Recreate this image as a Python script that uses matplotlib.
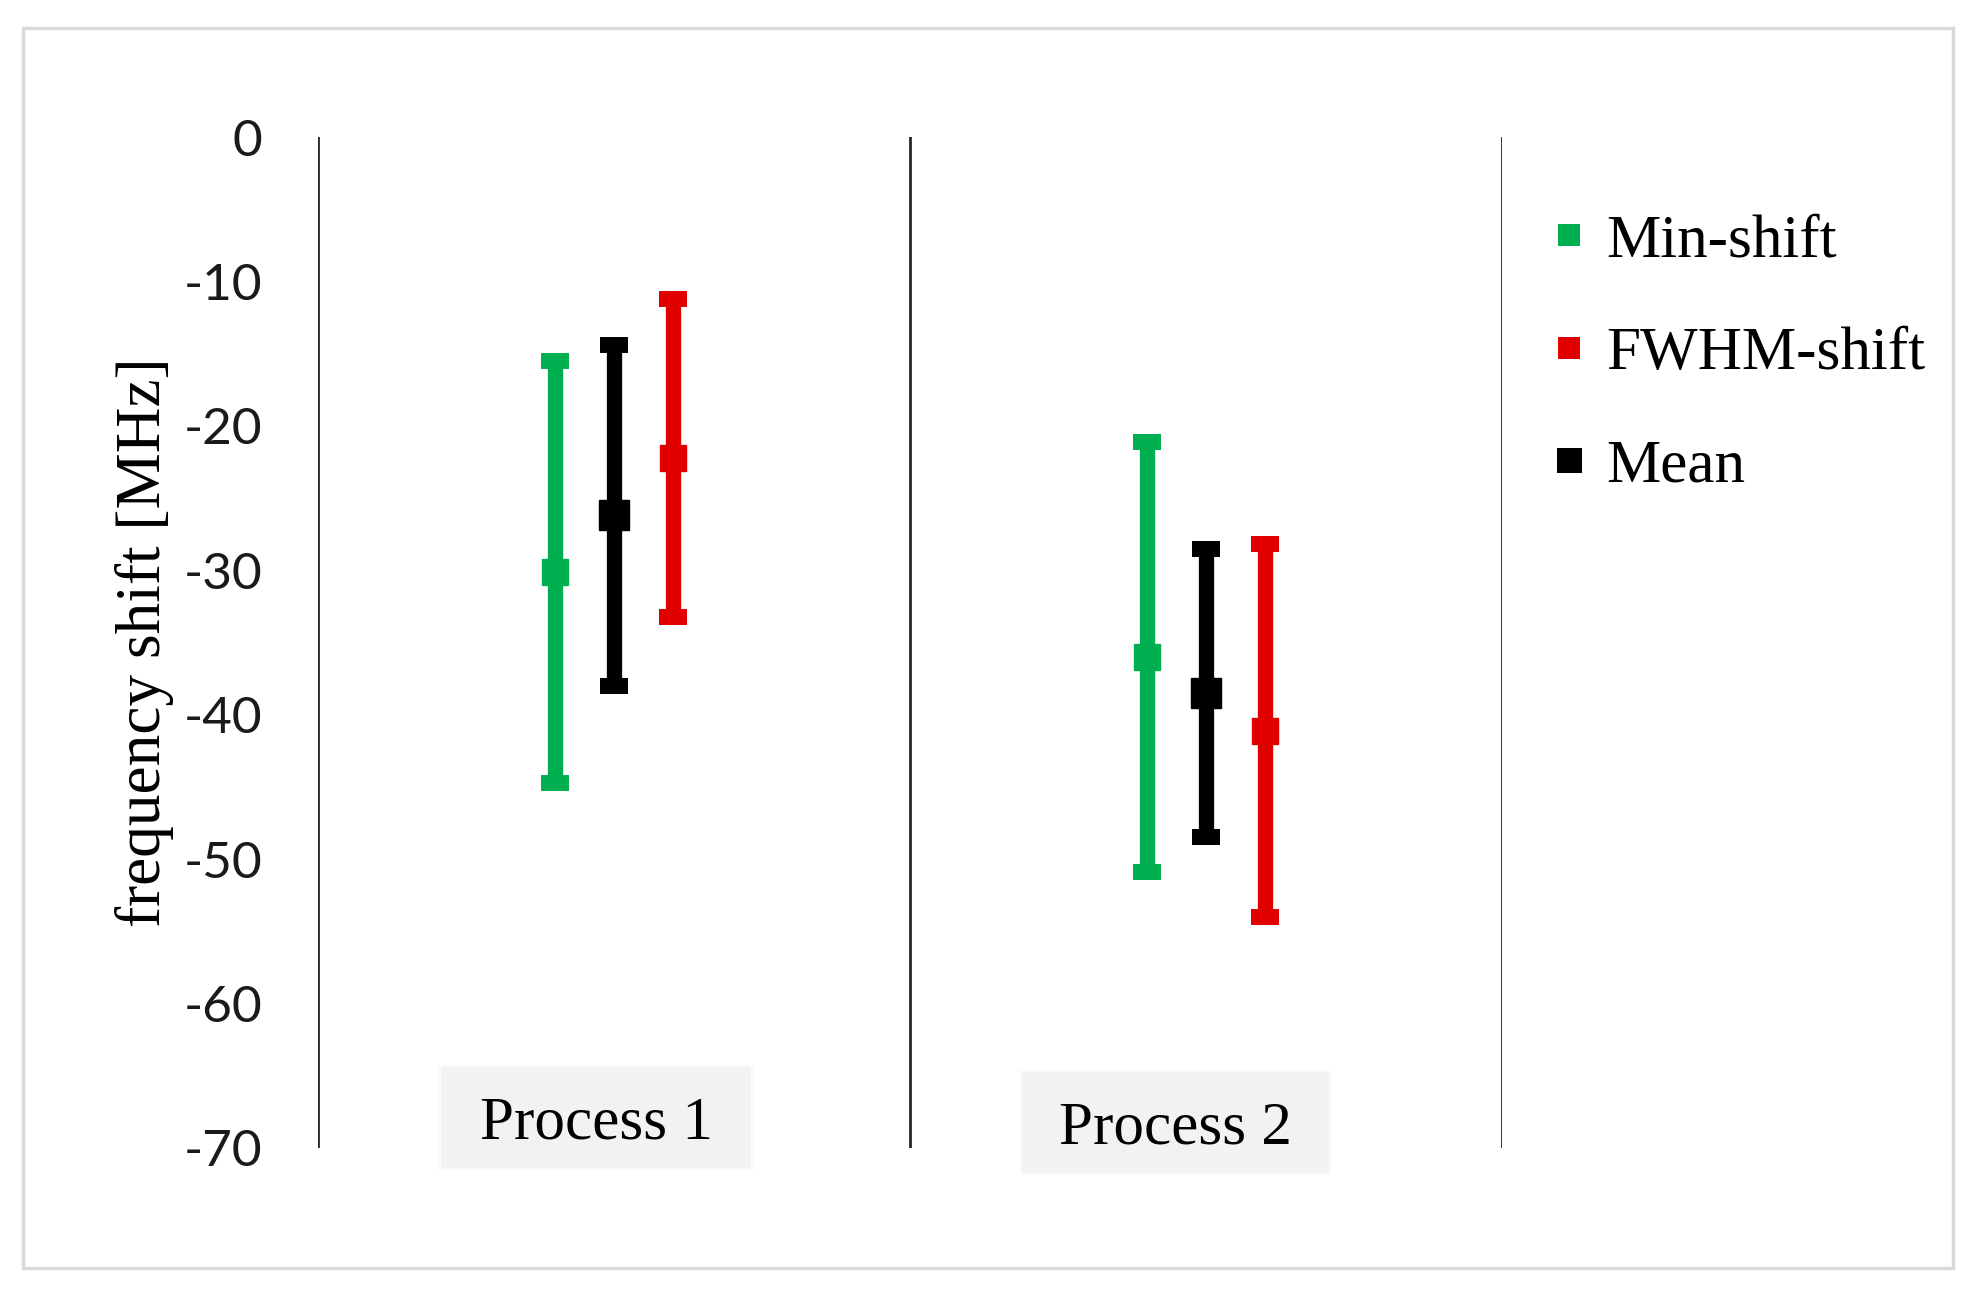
import matplotlib
matplotlib.use("Agg")
import matplotlib.pyplot as plt
from matplotlib.lines import Line2D
from matplotlib.patches import Rectangle
import numpy as np

# ---- data ----
categories = ["Process 1", "Process 2"]
series_names = ["Min-shift", "FWHM-shift", "Mean"]
min_shift_mean = [-30.1, -36.0]
min_shift_err = [14.6, 14.9]
fwhm_shift_mean = [-22.2, -41.1]
fwhm_shift_err = [11.0, 12.9]
mean_mean = [-26.2, -38.5]
mean_err = [11.8, 10.0]
yticks = [0, -10, -20, -30, -40, -50, -60, -70]

colors = ["#00B050", "#E00000", "#000000"]
W, H = 1971, 1289
DPI = 100
fig = plt.figure(figsize=(W / DPI, H / DPI), dpi=DPI)
fig.patch.set_facecolor("white")

def fx(px):
    return px / W

def fy(py):
    return 1 - py / H

# outer border
fig.add_artist(Rectangle((fx(23), fy(1268)), fx(1953) - fx(23), fy(28) - fy(1268),
                         transform=fig.transFigure, fill=False, edgecolor="#d9d9d9", lw=2.5))

ax_l, ax_r = 318, 1502
ax = fig.add_axes([fx(ax_l), fy(1148), fx(ax_r) - fx(ax_l), fy(137) - fy(1148)])
ax.set_xlim(-0.5, 1.5)
ax.set_ylim(-70, 0)
for s in ax.spines.values():
    s.set_visible(False)
for xv in [-0.5, 0.5, 1.5]:
    ax.axvline(xv, color="#262626", lw=2.0, zorder=1)

x = np.arange(len(categories))
offsets = [-0.1, 0.1, 0.0]
means = [min_shift_mean, fwhm_shift_mean, mean_mean]
errs = [min_shift_err, fwhm_shift_err, mean_err]
msizes = [19, 19, 22]
for name, off, m, e, c, ms in zip(series_names, offsets, means, errs, colors, msizes):
    ax.errorbar(x + off, m, yerr=e, fmt="s", color=c, ms=ms, mec=c, mfc=c,
                elinewidth=11, capsize=10, capthick=11.5, zorder=3)

ax.set_yticks(yticks)
ax.set_yticklabels([str(v) for v in yticks], fontsize=37, family="Lato", color="#1a1a1a")
ax.tick_params(axis="y", length=0, pad=40)
ax.set_xticks([])
ax.set_ylabel("frequency shift [MHz]", fontsize=45.5, family="Liberation Serif")
ax.yaxis.set_label_coords((174 - ax_l) / (ax_r - ax_l), 0.5)

# category label boxes
boxes = [(440, 1066, 752, 1169), (1021, 1071, 1330, 1174)]
for (x0, y0, x1, y1), lab in zip(boxes, categories):
    fig.add_artist(Rectangle((fx(x0), fy(y1)), fx(x1) - fx(x0), fy(y0) - fy(y1),
                             transform=fig.transFigure, facecolor="#f2f2f2",
                             edgecolor="#fafafa", lw=1.5))
    fig.text(fx((x0 + x1) / 2), fy((y0 + y1) / 2), lab, fontsize=44,
             family="Liberation Serif", ha="center", va="center_baseline")

# legend
handles = [Line2D([], [], marker="s", linestyle="none", color=c, ms=s, mew=0)
           for c, s in zip(colors, [16, 16, 18])]
ax.legend(handles, series_names, loc="center left",
          bbox_to_anchor=(fx(1551), fy(354)), bbox_transform=fig.transFigure,
          frameon=False, prop={"family": "Liberation Serif", "size": 44},
          handlelength=0.6, handletextpad=0.3, labelspacing=0.93,
          borderpad=0, borderaxespad=0)

fig.savefig("out.png", dpi=DPI, facecolor="white")
